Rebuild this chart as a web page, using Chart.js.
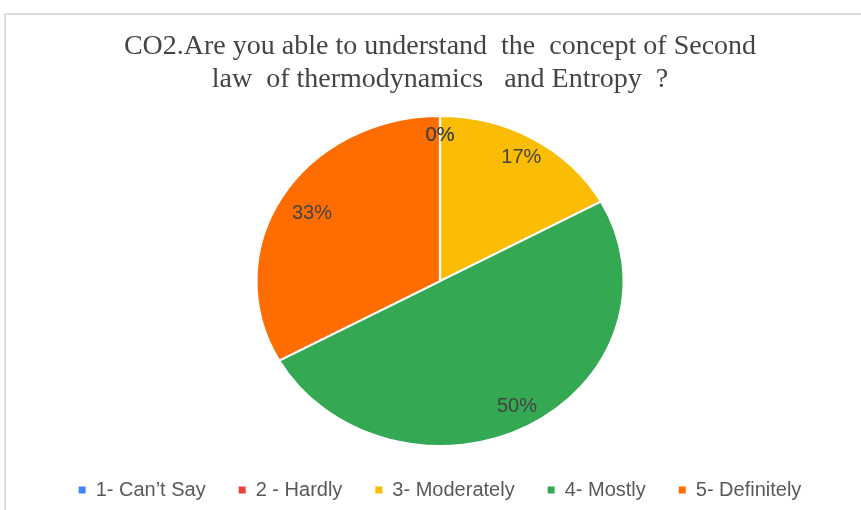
<!DOCTYPE html>
<html lang="en">
<head>
  <meta charset="UTF-8" />
  <title>CO2 Pie</title>
  <style>
    body { margin: 0; background: #fff; overflow: hidden; }
    #wrap { position: relative; width: 861px; height: 510px; }
  </style>
</head>
<body>
  <div id="wrap"><canvas id="myChart" width="861" height="510"></canvas></div>

  <script src="https://cdn.jsdelivr.net/npm/chart.js"></script>
  <script>
    const ctx = document.getElementById('myChart');

const labels = ['1- Can\u2019t Say', '2 - Hardly', '3- Moderately', '4- Mostly', '5- Definitely'];
const percents = [0, 0, 17, 50, 33];
const colors = ['#4285F4', '#EA4335', '#FBBC04', '#34A853', '#FF6D01'];

// the original pie is a bit wider than tall
const SX = 1.113;

const frame = {
  id: 'frame',
  beforeDraw(chart) {
    const c = chart.ctx;
    c.save();
    c.strokeStyle = '#dcdcdc';
    c.lineWidth = 2;
    c.beginPath();
    c.moveTo(5, 510);
    c.lineTo(5, 14);
    c.lineTo(861, 14);
    c.stroke();
    c.restore();
  }
};

const stretch = {
  id: 'stretch',
  beforeDatasetsDraw(chart) {
    const arc = chart.getDatasetMeta(0).data[0];
    const c = chart.ctx;
    c.save();
    c.translate(arc.x, 0);
    c.scale(SX, 1);
    c.translate(-arc.x, 0);
  },
  afterDatasetsDraw(chart) {
    const c = chart.ctx;
    c.restore();
    // percent labels
    const meta = chart.getDatasetMeta(0);
    c.save();
    c.font = '20px "Liberation Sans", Arial, sans-serif';
    c.fillStyle = '#444';
    c.textAlign = 'center';
    c.textBaseline = 'middle';
    meta.data.forEach((a, i) => {
      const mid = (a.startAngle + a.endAngle) / 2;
      const f = percents[i] === 0 ? 0.885 : (percents[i] > 30 && percents[i] < 40 ? 0.81 : 0.87);
      const r = a.outerRadius * f;
      c.fillText(percents[i] + '%', a.x + Math.cos(mid) * r * SX, a.y + Math.sin(mid) * r);
    });
    c.restore();
  }
};

    new Chart(ctx, {
      type: 'pie',
      data: {
        labels: labels,
        datasets: [{
          data: percents,
          backgroundColor: colors,
          borderColor: '#ffffff',
          borderWidth: 2
        }]
      },
      options: {
        responsive: false,
        animation: false,
        layout: { padding: { left: 19, bottom: 0 } },
        plugins: {
          title: {
            display: true,
            text: ['CO2.Are you able to understand  the  concept of Second', 'law  of thermodynamics   and Entropy  ?'],
            font: { family: '"Liberation Serif", "Times New Roman", serif', size: 28, weight: 'normal', lineHeight: 1.18 },
            color: '#444',
            padding: { top: 30, bottom: 19 }
          },
          legend: {
            position: 'bottom',
            labels: {
              font: { family: '"Liberation Sans", Arial, sans-serif', size: 20 },
              color: '#595959',
              boxWidth: 7,
              boxHeight: 7,
              padding: 33,
              generateLabels(chart) {
                const items = Chart.overrides.pie.plugins.legend.labels.generateLabels(chart);
                items.forEach(it => { it.lineWidth = 0; it.strokeStyle = it.fillStyle; });
                return items;
              }
            }
          },
          tooltip: { enabled: false }
        }
      },
      plugins: [frame, stretch]
    });
  </script>
</body>
</html>
